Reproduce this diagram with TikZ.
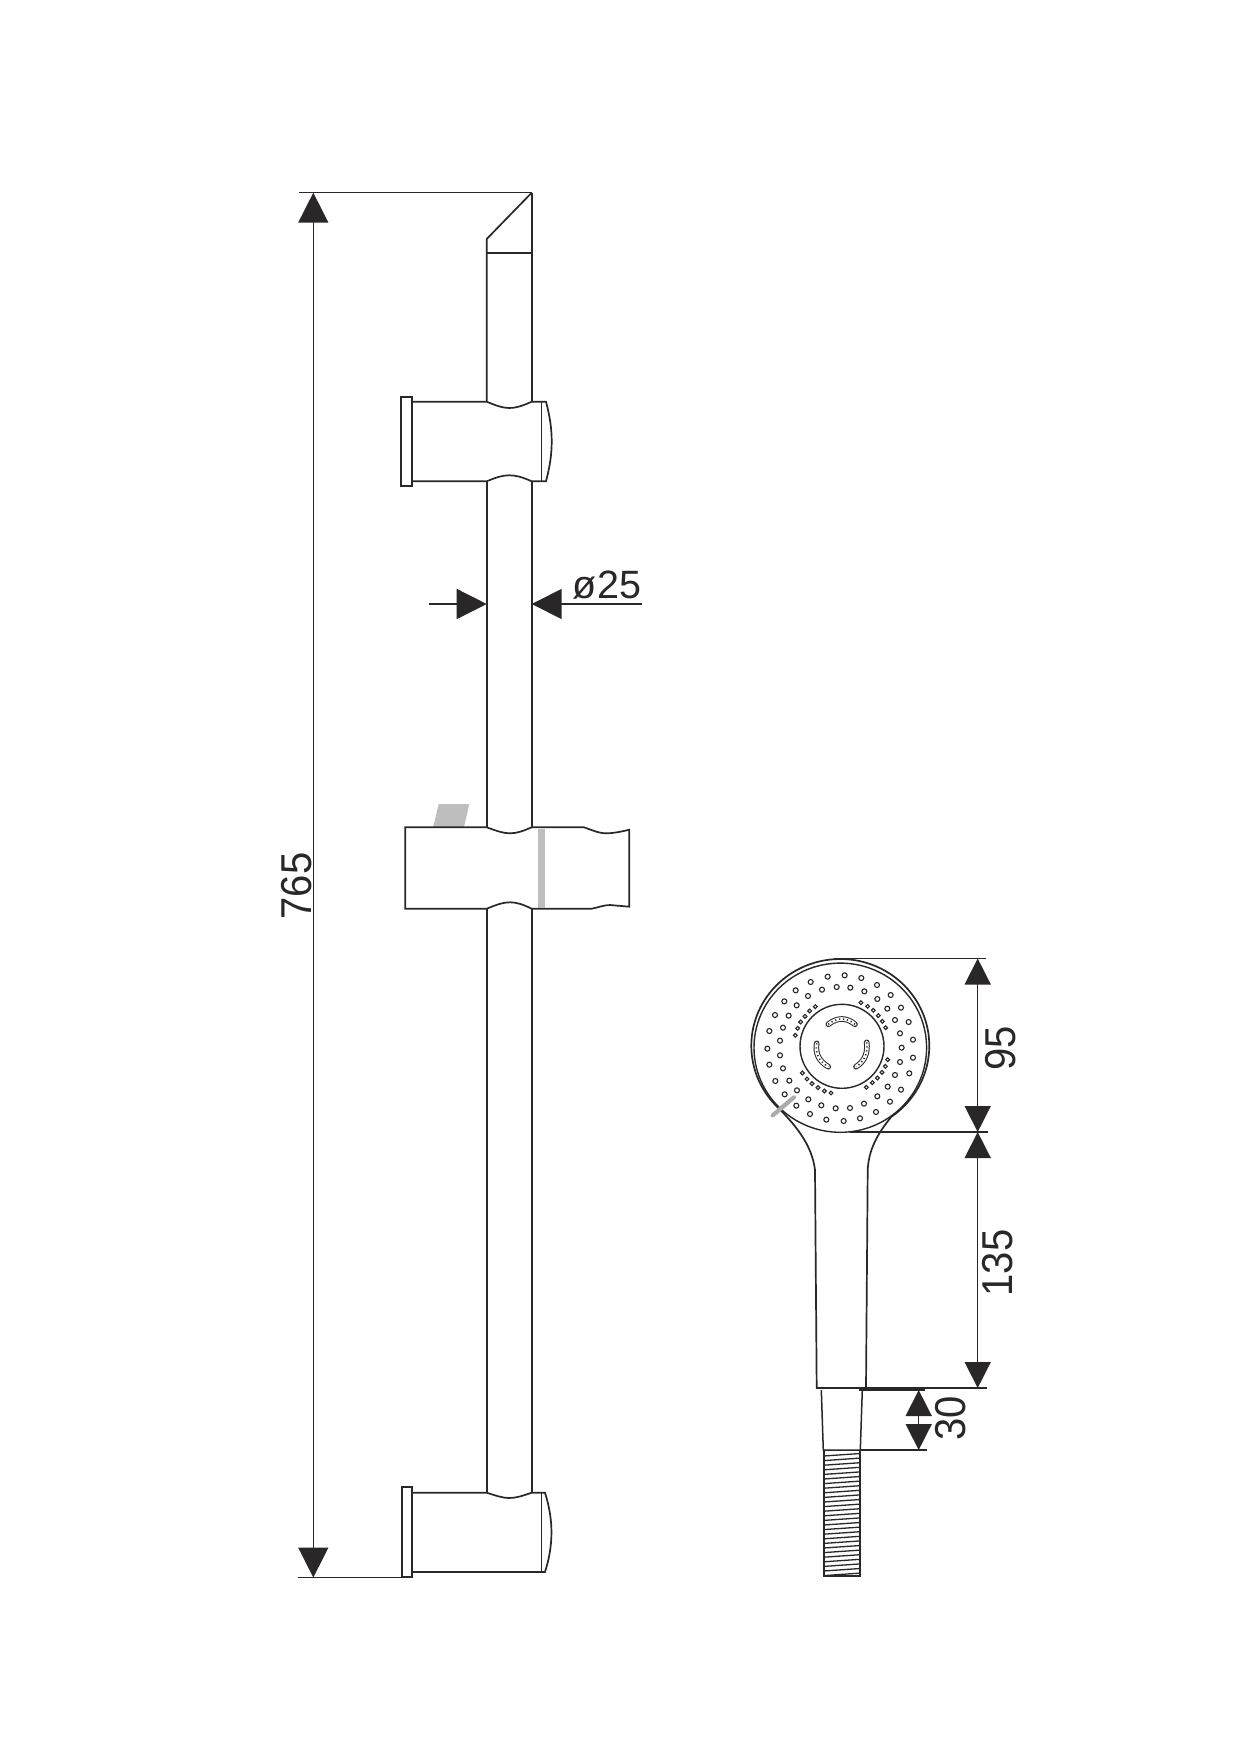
\documentclass[tikz,border=0pt]{standalone}
\usepackage{fontspec}
\usepackage{graphicx}
\setmainfont{Liberation Sans}
\usetikzlibrary{arrows.meta}
\definecolor{inkline}{HTML}{2A2728}
\definecolor{softgrey}{HTML}{BEBEBE}
\definecolor{knobgrey}{HTML}{ABABAB}
\newcommand{\talldigits}[1]{\scalebox{1}[1.08]{#1}}
\tikzset{
    partline/.style={draw=inkline, line width=1.7pt, line join=miter},
    dimline/.style={draw=inkline, line width=1.5pt},
    bothtips/.style={dimline, {Triangle[length=30pt,width=30pt]}-{Triangle[length=30pt,width=30pt]}},
    endtip/.style={dimline, -{Triangle[length=30pt,width=30pt]}},
    smalltips/.style={dimline, {Triangle[length=26pt,width=26pt]}-{Triangle[length=26pt,width=26pt]}},
    dimtext/.style={text=inkline, inner sep=0pt, anchor=base, font=\fontsize{40}{40}\selectfont},
    nozzle/.style={draw=inkline, line width=1.1pt, fill=white},
    slotedge/.style={draw=inkline, line width=5.6pt, line cap=round},
    slotinner/.style={draw=white, line width=3.6pt, line cap=round},
    slotholes/.style={draw=inkline, line width=1.6pt, dash pattern=on 1.2pt off 2.8pt}
}
\begin{document}
\begin{tikzpicture}[x=1pt, y=-1pt]
    \useasboundingbox (0,0) rectangle (1240,1754);
    \fill[white] (0,0) rectangle (1240,1754);
    % rail
    \coordinate (RailTop) at (531.7,192.7);
    \coordinate (RailLeft) at (486.7,239);
    \fill[softgrey] (433.3,827) -- (438.7,804) -- (469.3,804) -- (464,827) -- cycle;
    \draw[partline] (RailTop) -- (RailLeft) -- (486.7,401.7);
    \draw[partline] (RailTop) -- (531.7,401.7);
    \draw[partline] (486.7,252.7) -- (531.7,252.7);
    \draw[partline] (486.7,481.3) -- (486.7,827.3);
    \draw[partline] (531.7,481.3) -- (531.7,827.3);
    \draw[partline] (486.7,908.7) -- (486.7,1492.7);
    \draw[partline] (531.7,908.7) -- (531.7,1492.7);
    % upper bracket
    \draw[partline] (401.3,396.7) rectangle (412,486);
    \draw[partline] (412,401.7) -- (486.7,401.7) .. controls (497,406) and (503,408) .. (509.3,408) .. controls (516,408) and (522,406) .. (531.7,401.7) -- (546,401.7) .. controls (553.6,430) and (553.6,453) .. (546,481.3) -- (531.7,481.3) .. controls (522,477) and (516,475.3) .. (509.3,475.3) .. controls (503,475.3) and (497,477) .. (486.7,481.3) -- (412,481.3);
    \draw[partline, line width=1.4pt] (541.3,401.7) -- (541.3,481.3);
    % slider
    \draw[partline] (486.7,827.3) -- (405.3,827.3) -- (405.3,908.7) -- (486.7,908.7) .. controls (497,904.5) and (503,902.3) .. (510,902.3) .. controls (517,902.3) and (523,904.5) .. (531.7,908.7) -- (591.7,908.7) .. controls (598,907.5) and (604,905) .. (610,905) -- (629.3,906.7) -- (629.3,829.7) .. controls (620,832) and (612,833.3) .. (606.7,833.3) .. controls (598,833.3) and (592,830) .. (584,827.3) -- (531.7,827.3) .. controls (523,831) and (517,833.3) .. (510,833.3) .. controls (503,833.3) and (497,831) .. cycle;
    \fill[softgrey] (537.7,828.5) rectangle (544.7,907.7);
    % lower bracket
    \draw[partline] (401.7,1487.3) rectangle (412,1576.7);
    \draw[partline] (412,1492.7) -- (486.7,1492.7) .. controls (497,1496) and (503,1498) .. (509,1498) .. controls (516,1498) and (522,1496) .. (531.7,1492.7) -- (545,1492.7) .. controls (553.6,1520) and (553.6,1545) .. (545,1572) -- (412,1572);
    \draw[partline, line width=1.4pt] (541.7,1492.7) -- (541.7,1572);
    % rail dimensions
    \coordinate (HeightTop) at (313.3,192.7);
    \coordinate (HeightBottom) at (313.3,1577.5);
    \draw[dimline] (299,192.7) -- (RailTop);
    \draw[dimline] (298,1577.7) -- (401.7,1577.7);
    \draw[bothtips] (HeightTop) -- (HeightBottom);
    \node[dimtext, rotate=90] (LabelHeight) at (311.7,886) {\talldigits{765}};
    \coordinate (DiaLeft) at (429,604);
    \coordinate (DiaRight) at (641.7,604);
    \draw[endtip] (DiaLeft) -- (486.7,604);
    \draw[endtip] (DiaRight) -- (531.7,604);
    \node[dimtext, font=\fontsize{39.5}{40}\selectfont] (LabelDia) at (607,598) {ø25};
    % hand shower
    \draw[partline] (816.7,1388) -- (815,1170) .. controls (812,1145) and (796,1126) .. (779.6,1109.1) -- plot[domain=133:415, samples=120] ({840.3+89*cos(\x)},{1045.7+86.7*sin(\x)}) .. controls (878,1133) and (868,1150) .. (867.7,1171.7) -- (866,1388) -- cycle;
    \draw[partline, line width=1.4pt] (840.3,1047.7) circle[x radius=86.3pt, y radius=84.6pt];
    \draw[partline, line width=1.4pt] (842,1046.3) circle[radius=42pt];
    \begin{scope}[shift={(730,940)}, x=.3333pt, y=-.3333pt]
        \foreach \dotx/\doty in {293/110,344/106,394/114,441/135,482/165,513/203,536/246,549/299,549/353,538/400,513/449,480/485,438/516,390/535,341/543,289/539,240/522,199/497,164/463,136/423,118/374,112/326,118/273,135/225,163/184,197/151,242/126,
            320/141,361/143,403/154,442/177,472/206,495/240,510/280,515/323,510/366,495/405,473/440,442/469,402/491,360/504,317/505,274/496,235/478,201/451,178/422,159/385,150/346,150/302,159/263,176/227,200/196,234/168,276/149}
            \draw[nozzle] (\dotx,\doty) circle[radius=2.5pt];
        \foreach \dotx/\doty in {393/188,413/199,430/211,445/227,457/244,467/263,473/359,466/379,456/397,442/414,427/428,409/442,303/459,283/453,264/443,246/431,231/417,217/399,196/286,203/265,212/246,225/229,239/213,256/200}
            \draw[nozzle] (\dotx,\doty) circle[radius=1.9pt];
    \end{scope}
    \foreach \slotstyle in {slotedge, slotinner, slotholes} {
        \draw[\slotstyle] (828.3,1024.3) .. controls (837.2,1017.2) and (846.5,1017.2) .. (855,1024.3);
        \draw[\slotstyle] (816.7,1043.3) .. controls (815,1053.4) and (818.9,1061.2) .. (828.3,1066.7);
        \draw[\slotstyle] (866.7,1042.3) .. controls (868,1053.4) and (864.4,1061.5) .. (856,1066.7);
    }
    \draw[knobgrey, line width=4.2pt, line cap=round] (772.7,1115.3) -- (794,1097.3);
    % connector and hose
    \draw[partline, line width=1.5pt] (821.3,1390) -- (823.3,1450) -- (860.3,1450) -- (862.3,1390);
    \draw[partline] (823.7,1450) -- (823.7,1576) -- (860,1576) -- (860,1450);
    \foreach \thready in {1453.5,1458.1,...,1574}
        \draw[draw=inkline, line width=1.3pt] (823.7,\thready+2.5) -- (860,\thready);
    % shower dimensions
    \coordinate (HeadTop) at (977.7,958.5);
    \coordinate (HeadBottom) at (977.7,1132);
    \coordinate (HandleBottom) at (977.7,1388);
    \coordinate (NeckTop) at (918.7,1390);
    \coordinate (NeckBottom) at (918.7,1450);
    \draw[dimline] (834,958.3) -- (986,958.3);
    \draw[dimline] (850,1132) -- (988,1132);
    \draw[dimline] (866,1388) -- (986.7,1388);
    \draw[dimline] (859,1390) -- (925,1390);
    \draw[dimline] (860.3,1450) -- (927,1450);
    \draw[smalltips] (HeadTop) -- (HeadBottom);
    \draw[smalltips] (HeadBottom) -- (HandleBottom);
    \draw[smalltips] (NeckTop) -- (NeckBottom);
    \node[dimtext, rotate=90] (LabelHead) at (1015,1048) {\talldigits{95}};
    \node[dimtext, rotate=90] (LabelHandle) at (1012.3,1263) {\talldigits{135}};
    \node[dimtext, rotate=90] (LabelNeck) at (965,1418.5) {\talldigits{30}};
\end{tikzpicture}
\end{document}
